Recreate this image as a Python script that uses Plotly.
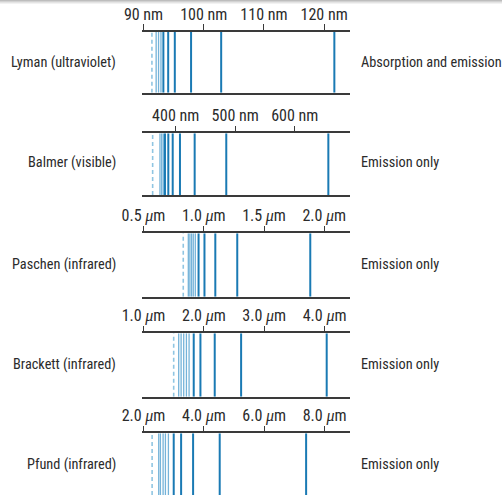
import plotly.graph_objects as go

# ---------------- data ----------------
series_names = ["Lyman (ultraviolet)", "Balmer (visible)", "Paschen (infrared)",
                "Brackett (infrared)", "Pfund (infrared)"]
right_labels = ["Absorption and emission", "Emission only", "Emission only",
                "Emission only", "Emission only"]

lyman_strong = [121.7, 102.9, 97.9, 95.2, 94.1, 93.3]
lyman_faint = [92.9, 92.5, 92.1]
lyman_limit = 91.4

balmer_strong = [656.5, 485.0, 431.9, 407.2, 395.0, 387.6, 382.0]
balmer_faint = [379.2, 376.5, 373.6]
balmer_limit = 361.3

paschen_strong = [1.884, 1.278, 1.096, 1.006, 0.957]
paschen_faint = [0.930, 0.913, 0.899, 0.885, 0.872]
paschen_limit = 0.830

brackett_strong = [4.035, 2.617, 2.180, 1.943, 1.832]
brackett_faint = [1.755, 1.711, 1.666, 1.623, 1.583]
brackett_limit = 1.500

pfund_strong = [7.388, 4.525, 3.643, 3.246, 3.001]
pfund_faint = [2.825, 2.726, 2.649, 2.560, 2.504]
pfund_limit = 2.285

lyman_ticks = [90, 100, 110, 120]
balmer_ticks = [400, 500, 600]
paschen_ticks = [0.5, 1.0, 1.5, 2.0]
brackett_ticks = [1.0, 2.0, 3.0, 4.0]
pfund_ticks = [2.0, 4.0, 6.0, 8.0]

MU = '<span style="font-family:Liberation Serif, serif;font-style:italic">\u03bc</span>m'
lyman_ticktext = [f"{v} nm" for v in lyman_ticks]
balmer_ticktext = [f"{v} nm" for v in balmer_ticks]
paschen_ticktext = [f"{v:.1f} {MU}" for v in paschen_ticks]
brackett_ticktext = [f"{v:.1f} {MU}" for v in brackett_ticks]
pfund_ticktext = [f"{v:.1f} {MU}" for v in pfund_ticks]

x_ranges = [[89.75, 124.3], [343.4, 692.9], [0.4876, 2.2137], [0.975, 4.421], [1.950, 8.842]]

# ---------------- layout constants ----------------
W, H = 502, 495
FONT = "Roboto Condensed, Liberation Sans Narrow, DejaVu Sans Condensed, sans-serif"
FS_TICK = 16
FS_LABEL = 14.3
TEXT_COLOR = "#2b2b2b"
STRONG = "#1a7ab4"
FAINT = "#74b3d9"
LIMIT = "#8fc5e2"

x_dom = [142 / W, 350 / W]
# (top px, bottom px) of each panel
panel_px = [(31.7, 92.7), (133.3, 195.0), (233.3, 296.7), (333.3, 396.7), (433.3, 500.0)]
label_mid_px = [62, 162, 264, 364, 464]

strong_all = [lyman_strong, balmer_strong, paschen_strong, brackett_strong, pfund_strong]
faint_all = [lyman_faint, balmer_faint, paschen_faint, brackett_faint, pfund_faint]
limit_all = [lyman_limit, balmer_limit, paschen_limit, brackett_limit, pfund_limit]
ticks_all = [lyman_ticks, balmer_ticks, paschen_ticks, brackett_ticks, pfund_ticks]
ticktext_all = [lyman_ticktext, balmer_ticktext, paschen_ticktext, brackett_ticktext, pfund_ticktext]


def vlines(vals):
    xs, ys = [], []
    for v in vals:
        xs += [v, v, None]
        ys += [0, 1, None]
    return xs, ys


fig = go.Figure()
layout = dict(
    width=W, height=H,
    margin=dict(l=0, r=0, t=0, b=0, autoexpand=False),
    paper_bgcolor="white", plot_bgcolor="white",
    showlegend=False,
    font=dict(family=FONT, size=FS_TICK, color=TEXT_COLOR),
)

annotations = []
shapes = []
for i in range(5):
    n = "" if i == 0 else str(i + 1)
    xa, ya = "x" + n, "y" + n
    top_px, bot_px = panel_px[i]
    y0 = max(0.0, 1 - bot_px / H)
    y1 = 1 - top_px / H

    xs, ys = vlines([limit_all[i]])
    fig.add_trace(go.Scatter(x=xs, y=ys, mode="lines", xaxis=xa, yaxis=ya,
                             line=dict(color=LIMIT, width=1.6, dash="4px,3px"),
                             hoverinfo="skip"))
    xs, ys = vlines(faint_all[i])
    fig.add_trace(go.Scatter(x=xs, y=ys, mode="lines", xaxis=xa, yaxis=ya,
                             line=dict(color=FAINT, width=1.3), hoverinfo="skip"))
    xs, ys = vlines(strong_all[i])
    fig.add_trace(go.Scatter(x=xs, y=ys, mode="lines", xaxis=xa, yaxis=ya,
                             line=dict(color=STRONG, width=2), hoverinfo="skip"))

    layout["xaxis" + n] = dict(
        domain=x_dom, range=x_ranges[i], anchor=ya, side="top",
        showgrid=False, zeroline=False,
        showline=True, linecolor="#3a3a3a", linewidth=1.5,
        mirror=(i < 4),
        ticks="outside", ticklen=6, tickwidth=1, tickcolor="#3a3a3a",
        tickvals=ticks_all[i], ticktext=ticktext_all[i],
        tickangle=0, automargin=False,
        tickfont=dict(family=FONT, size=FS_TICK, color=TEXT_COLOR),
        ticklabelstandoff=-2,
        fixedrange=True,
    )
    layout["yaxis" + n] = dict(
        domain=[y0, y1], range=[0, 1], anchor=xa, automargin=False,
        showgrid=False, zeroline=False, showline=False,
        showticklabels=False, ticks="", fixedrange=True,
    )

    annotations.append(dict(
        text=series_names[i], xref="paper", yref="paper",
        x=118 / W, y=1 - label_mid_px[i] / H, xanchor="right", yanchor="middle",
        showarrow=False, font=dict(family=FONT, size=FS_LABEL, color=TEXT_COLOR)))
    annotations.append(dict(
        text=right_labels[i], xref="paper", yref="paper",
        x=359 / W, y=1 - label_mid_px[i] / H, xanchor="left", yanchor="middle",
        showarrow=False, font=dict(family=FONT, size=FS_LABEL, color=TEXT_COLOR)))

# faint grey shadow strip at the top edge
for k, c in enumerate(["#bdbdbd", "#d2d2d2", "#e4e4e4", "#f2f2f2"]):
    shapes.append(dict(type="rect", xref="paper", yref="paper",
                       x0=0, x1=1, y0=1 - (k + 1) / H, y1=1 - k / H,
                       fillcolor=c, line=dict(width=0), layer="below"))

layout["annotations"] = annotations
layout["shapes"] = shapes
fig.update_layout(**layout)
fig.write_html("out.html")
